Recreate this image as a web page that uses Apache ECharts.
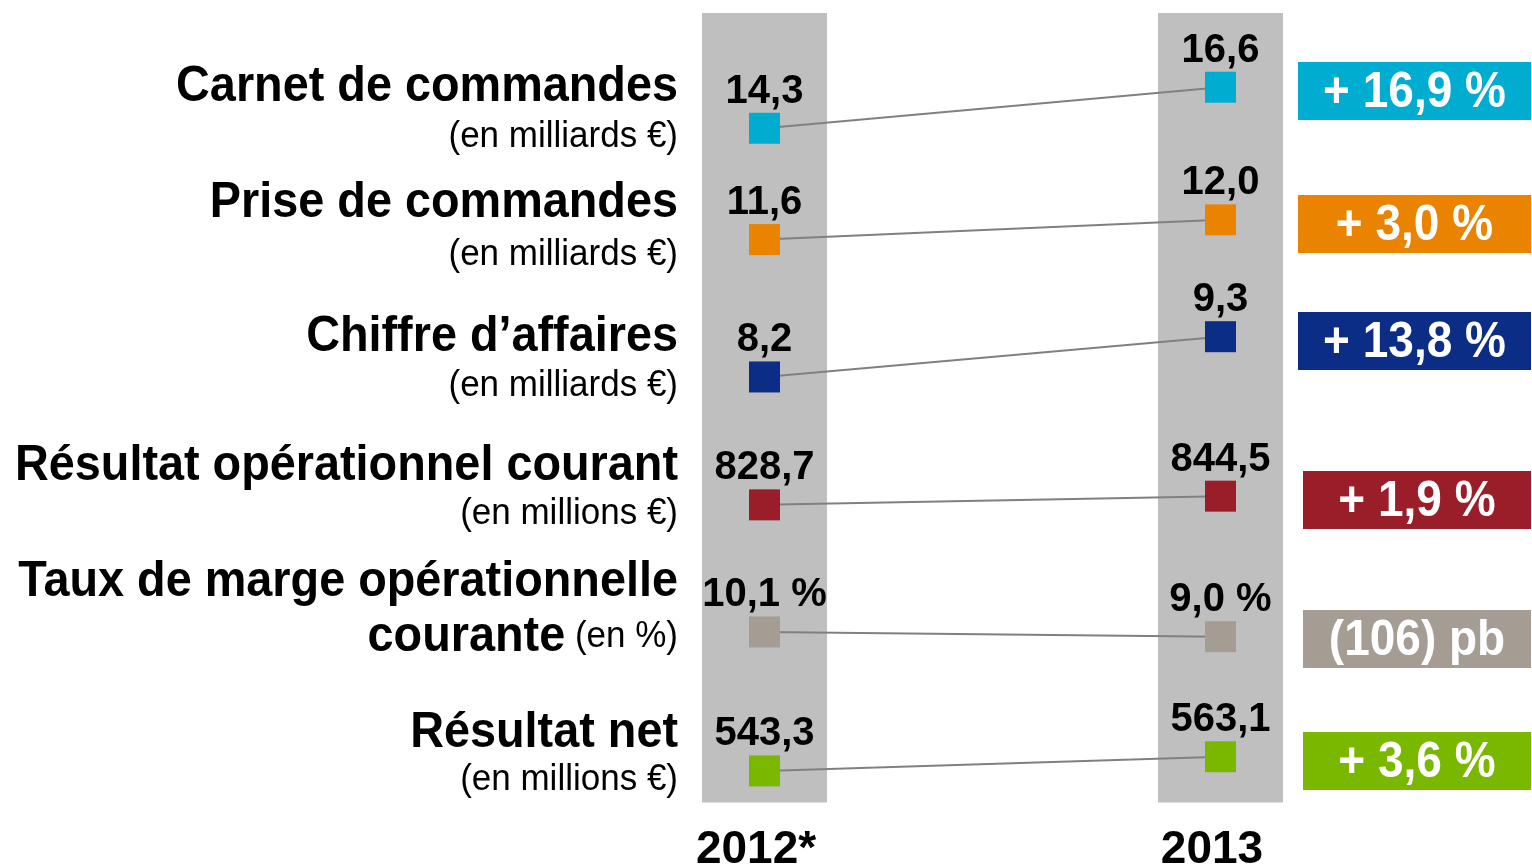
<!DOCTYPE html>
<html lang="fr">
<head>
    <meta charset="UTF-8">
    <title>Chiffres clés 2012 / 2013</title>
    <style>
        html, body { margin: 0; padding: 0; background: #fff; }
    </style>
</head>
<body>
<div id="main" style="width: 1532px;height:864px;"></div>

<script src="https://cdn.jsdelivr.net/npm/echarts@6/dist/echarts.min.js"></script>
<script>
    // données
    var years = ['2012*', '2013'];
    var rowTitles = ['Carnet de commandes', 'Prise de commandes', 'Chiffre d’affaires',
        'Résultat opérationnel courant', 'Taux de marge opérationnelle\ncourante', 'Résultat net'];
    var rowUnits = ['(en milliards €)', '(en milliards €)', '(en milliards €)',
        '(en millions €)', '(en %)', '(en millions €)'];
    var values2012 = [14.3, 11.6, 8.2, 828.7, 10.1, 543.3];
    var values2013 = [16.6, 12.0, 9.3, 844.5, 9.0, 563.1];
    var valueSuffix = ['', '', '', '', ' %', ''];
    // hauteur de chaque carré sur l'échelle verticale (0-100)
    var level2012 = [85.4, 71.3, 53.9, 37.7, 21.6, 4.0];
    var level2013 = [90.6, 73.8, 59.0, 38.8, 21.0, 5.8];
    var changes = ['+ 16,9 %', '+ 3,0 %', '+ 13,8 %', '+ 1,9 %', '(106) pb', '+ 3,6 %'];
    var rowColors = ['#00add0', '#e98300', '#0b2d86', '#9a1e2a', '#a59c94', '#7ab800'];

    var FONT = '"Liberation Sans", Arial, sans-serif';

    function fmt(v) {
        return v.toFixed(1).replace('.', ',');
    }

    var chart = echarts.init(document.getElementById('main'));

    var series = [{
        type: 'bar',
        data: [100, 100],
        barWidth: 125,
        silent: true,
        itemStyle: { color: '#bfbfbf' },
        z: 1
    }];

    for (var i = 0; i < rowTitles.length; i++) {
        (function (i) {
            series.push({
                type: 'line',
                data: [level2012[i], level2013[i]],
                symbol: 'rect',
                symbolSize: 31,
                silent: true,
                z: 3,
                itemStyle: { color: rowColors[i] },
                lineStyle: { color: '#808080', width: 2 },
                label: {
                    show: true,
                    position: 'top',
                    distance: 1,
                    fontFamily: FONT,
                    fontSize: 40,
                    fontWeight: 'bold',
                    color: '#000',
                    formatter: function (p) {
                        var v = p.dataIndex === 0 ? values2012[i] : values2013[i];
                        return fmt(v) + valueSuffix[i];
                    }
                }
            });
        })(i);
    }

    // libellés de gauche et encadrés de variation
    var titleY = [87, 203, 337, 466, 582, 733];
    var unitY = [137, 255, 386, 514, 637, 780];
    var boxY = [62, 195, 312, 471, 610, 732];
    var boxX = [1298, 1298, 1298, 1303, 1303, 1303];

    var graphics = [];
    for (var j = 0; j < rowTitles.length; j++) {
        var parts = rowTitles[j].split('\n');
        graphics.push({
            type: 'text',
            x: 678, y: titleY[j],
            scaleY: 1.08,
            style: {
                text: parts[0],
                font: 'bold 46.8px ' + FONT,
                fill: '#000',
                align: 'right',
                verticalAlign: 'middle'
            }
        });
        var second = parts.length > 1 ? '{b|' + parts[1] + '}{r| ' + rowUnits[j] + '}' : '{r|' + rowUnits[j] + '}';
        graphics.push({
            type: 'text',
            x: 678, y: unitY[j],
            scaleY: 1.08,
            style: {
                text: second,
                align: 'right',
                verticalAlign: 'middle',
                fill: '#000',
                rich: {
                    b: { font: 'bold 46.8px ' + FONT, fill: '#000' },
                    r: { font: '35px ' + FONT, fill: '#000' }
                }
            }
        });
        graphics.push({
            type: 'rect',
            shape: { x: boxX[j], y: boxY[j], width: 1531 - boxX[j], height: 58 },
            style: { fill: rowColors[j] }
        });
        graphics.push({
            type: 'text',
            x: (boxX[j] + 1531) / 2, y: boxY[j] + 31,
            scaleY: 1.1,
            style: {
                text: changes[j],
                font: 'bold 46px ' + FONT,
                fill: '#fff',
                align: 'center',
                verticalAlign: 'middle'
            }
        });
    }

    chart.setOption({
        animation: false,
        backgroundColor: '#fff',
        grid: {
            left: 536.5,
            width: 912,
            top: 13,
            bottom: 61.5,
            outerBoundsMode: 'none'
        },
        xAxis: {
            type: 'category',
            data: years,
            axisLine: { show: false },
            axisTick: { show: false },
            axisLabel: {
                margin: 25,
                padding: [0, 17, 0, 0],
                fontFamily: FONT,
                fontSize: 46,
                fontWeight: 'bold',
                color: '#000'
            }
        },
        yAxis: {
            type: 'value',
            min: 0,
            max: 100,
            show: false,
            splitLine: { show: false }
        },
        series: series,
        graphic: graphics
    });
</script>
</body>
</html>
